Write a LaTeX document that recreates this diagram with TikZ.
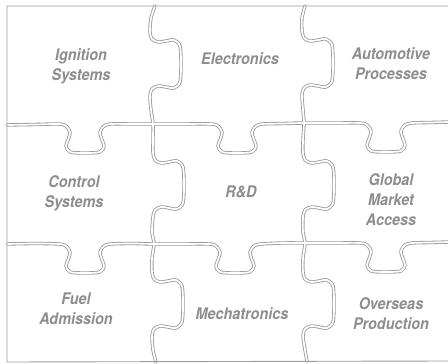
\documentclass[tikz,border=0pt]{standalone}
\usepackage{fontspec}
\newfontfamily\lblfont{TeX Gyre Heros}[FakeStretch=0.9]
\definecolor{seamgray}{HTML}{9C9C9C}
\definecolor{txtgray}{HTML}{8C8D90}
\tikzset{
  seamout/.style={draw=seamgray, line width=3.4pt, line cap=round, line join=round},
  seamin/.style={draw=white, line width=1.7pt, line cap=round, line join=round},
  border/.style={draw=seamgray, line width=0.9pt},
  lbl/.style={align=center, text=txtgray, inner sep=0pt,
    font=\lblfont\bfseries\itshape\fontsize{16}{20}\selectfont},
  smoothplot/.style={smooth, tension=0.5}
}
\newcommand\puzzleseams[1]{%
  % vertical seam between columns 1 and 2
  \draw[#1] plot[smoothplot] coordinates {(155,6) (151,18) (150,32) (152,39) (158,42) (166,41) (174,40) (180,46) (181,64) (180,82) (174,88) (166,87) (158,86) (152,89) (150,96) (151,110) (153,124) (153,140) (153,153) (155,160) (161,163) (169,162) (177,161) (183,167) (184,185) (183,203) (177,209) (169,208) (161,207) (155,210) (153,217) (152,232) (154,244) (152,258) (152,272) (154,279) (160,282) (168,281) (176,280) (182,286) (183,304) (182,322) (176,328) (168,327) (160,326) (154,329) (152,336) (153,350) (156,362)};
  % vertical seam between columns 2 and 3
  \draw[#1] plot[smoothplot] coordinates {(305,6) (302,18) (302,31) (304,38) (310,41) (318,40) (326,39) (332,45) (333,63) (332,81) (326,87) (318,86) (310,85) (304,88) (302,95) (303,110) (304,123) (303,140) (303,153) (305,160) (311,163) (319,162) (327,161) (333,167) (334,185) (333,203) (327,209) (319,208) (311,207) (305,210) (303,217) (303,232) (305,243) (303,258) (303,272) (305,279) (311,282) (319,281) (327,280) (333,286) (334,304) (333,322) (327,328) (319,327) (311,326) (305,329) (303,336) (305,350) (307,361)};
  % horizontal seam between rows 1 and 2
  \draw[#1] plot[smoothplot] coordinates {(7,125) (35,124.5) (59,124) (66,126) (70,132) (68,140) (66,146) (70,152) (85,153) (100,152) (104,146) (102,140) (100,132) (104,126) (111,124) (132,124) (153,124) (180,124) (211,124) (218,126) (222,132) (220,140) (218,146) (222,152) (237,153) (252,152) (256,146) (254,140) (252,132) (256,126) (263,124) (283,123.5) (304,123) (335,123) (360,123) (367,125) (371,131) (369,139) (367,145) (371,151) (386,152) (401,151) (405,145) (403,139) (401,131) (405,125) (412,123) (430,122.5) (449,122)};
  % horizontal seam between rows 2 and 3
  \draw[#1] plot[smoothplot] coordinates {(7,244) (35,243.5) (59,244) (66,246) (70,252) (68,260) (66,266) (70,272) (85,273) (100,272) (104,266) (102,260) (100,252) (104,246) (111,244) (132,243.5) (154,244) (180,244) (209,244) (216,246) (220,252) (218,260) (216,266) (220,272) (235,273) (250,272) (254,266) (252,260) (250,252) (254,246) (261,244) (283,243) (305,243) (335,243) (360,243) (367,245) (371,251) (369,259) (367,265) (371,271) (386,272) (401,271) (405,265) (403,259) (401,251) (405,245) (412,243) (430,242.5) (449,242)};
}
\begin{document}
\begin{tikzpicture}[x=1pt,y=-1pt]
\useasboundingbox[fill=white] (0,0) rectangle (448,364);
\puzzleseams{seamout}
\puzzleseams{seamin}
\draw[border] (449,6) -- (7,6) -- (7,362) -- (449,361);
\node[lbl] (ign) at (81,66) {Ignition\\Systems};
\node[lbl] (ele) at (240,59) {Electronics};
\node[lbl] (aut) at (391,64) {Automotive\\Processes};
\node[lbl] (con) at (74,193) {Control\\Systems};
\node[lbl] (rd)  at (241,192) {R\&D};
\node[lbl] (glo) at (391,200) {Global\\Market\\Access};
\node[lbl] (fue) at (76,309) {Fuel\\Admission};
\node[lbl] (mec) at (242,314) {Mechatronics};
\node[lbl] (ove) at (391,314) {Overseas\\Production};
\end{tikzpicture}
\end{document}
